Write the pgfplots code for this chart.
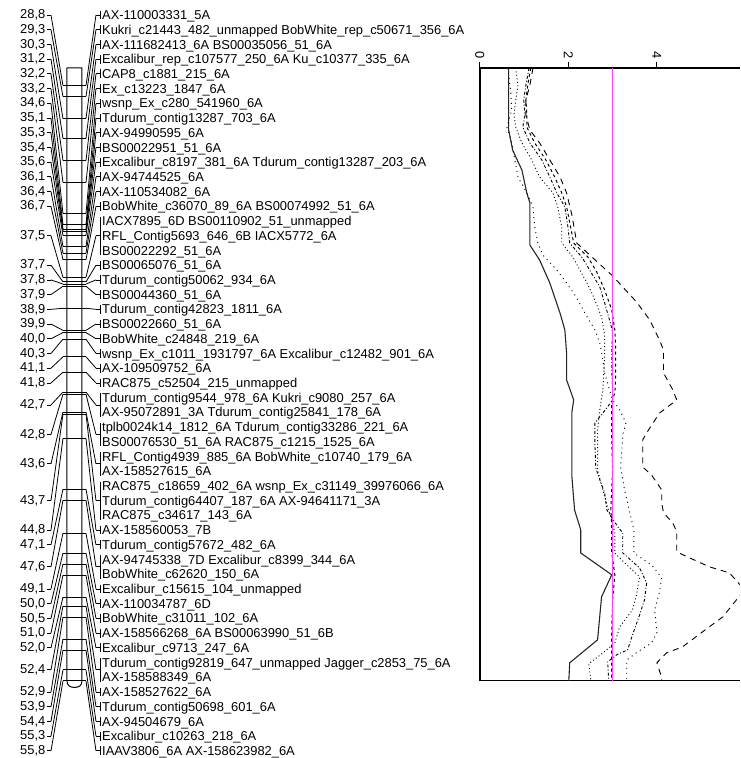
\documentclass[border=0pt]{standalone}
\usepackage{fontspec}
\setmainfont{Liberation Sans}
\usepackage{pgfplots}
\usepackage{pgfplotstable}
\pgfplotsset{compat=1.18}
\definecolor{thr}{RGB}{255,64,255}
\newcommand{\lbl}{\fontsize{12.9}{15}\selectfont}

% linkage groups: position (cM), first and last label row
\pgfplotstableread{
c rs re
28.8 1 1
29.3 2 2
30.3 3 3
31.2 4 4
32.2 5 5
33.2 6 6
34.6 7 7
35.1 8 8
35.3 9 9
35.4 10 10
35.6 11 11
36.1 12 12
36.4 13 13
36.7 14 14
37.5 15 17
37.7 18 18
37.8 19 19
37.9 20 20
38.9 21 21
39.9 22 22
40.0 23 23
40.3 24 24
41.1 25 25
41.8 26 26
42.7 27 28
42.8 29 30
43.6 31 32
43.7 33 35
44.8 36 36
47.1 37 37
47.6 38 39
49.1 40 40
50.0 41 41
50.5 42 42
51.0 43 43
52.0 44 44
52.4 45 46
52.9 47 47
53.9 48 48
54.4 49 49
55.3 50 50
55.8 51 51
}\groups
\pgfplotstablecreatecol[create col/expr={25.596+0.66757*((\thisrow{rs}+\thisrow{re})/2-1)}]{yn}{\groups}
\pgfplotstablecreatecol[create col/expr={\thisrow{c}-\thisrow{yn}}]{dv}{\groups}
\pgfplotstablecreatecol[create col/expr={\thisrow{yn}-\thisrow{c}}]{ndv}{\groups}
\pgfplotstablecreatecol[create col/expr={25.596+0.66757*(\thisrow{rs}-1)-0.2}]{yt}{\groups}
\pgfplotstablecreatecol[create col/expr={0.66757*(\thisrow{re}-\thisrow{rs})+0.4}]{bh}{\groups}

\pgfplotstableread{
lod cm
0.65 28.00
0.65 30.81
0.74 31.72
0.95 32.63
1.06 33.67
1.13 34.12
1.13 36.03
1.35 36.71
1.58 37.75
1.81 39.11
1.92 39.88
1.96 40.93
1.96 42.15
2.12 43.06
2.08 43.60
2.08 46.55
2.14 48.05
2.28 48.95
2.28 50.00
2.98 50.99
2.75 51.99
2.66 53.94
2.03 54.98
2.01 55.80
}\curveS

\pgfplotstableread{
lod cm
1.20 28.00
1.13 28.77
1.04 29.45
1.04 30.13
1.13 30.81
1.35 31.40
1.58 32.17
1.81 32.94
1.96 33.67
2.08 34.67
2.19 35.94
2.53 36.57
2.98 37.39
3.54 38.61
3.84 39.43
4.06 40.34
4.15 40.79
4.15 41.83
4.36 42.60
4.45 43.06
4.06 43.65
3.77 44.55
3.68 44.87
3.68 46.10
3.88 46.46
4.11 47.14
4.11 47.73
4.15 48.18
4.36 48.63
4.45 49.04
4.45 49.95
4.74 50.22
5.19 50.63
5.64 50.90
5.98 51.67
5.49 52.90
5.03 53.58
4.58 54.26
4.22 54.53
4.00 54.98
4.09 55.53
4.11 55.80
}\curveLD

\pgfplotstableread{
lod cm
0.63 28.00
0.70 29.13
0.72 29.90
0.61 30.68
0.72 31.40
0.79 32.17
0.86 32.94
1.06 33.67
1.20 34.30
1.24 35.21
1.31 35.94
1.42 36.48
1.74 37.16
1.96 37.75
2.19 38.43
2.37 39.11
2.60 39.88
2.71 40.47
2.78 41.24
2.82 41.83
2.93 42.60
3.00 43.06
3.16 43.51
3.30 44.10
3.23 44.64
3.21 45.32
3.18 46.10
3.27 47.14
3.39 48.18
3.48 48.95
3.48 50.00
3.88 50.54
4.11 51.13
4.06 51.76
3.95 52.58
4.00 53.62
3.88 54.08
3.57 54.48
3.32 54.85
3.32 55.80
}\curveD

\pgfplotstableread{
lod cm
0.81 28.00
0.86 28.77
0.81 29.45
0.77 30.13
0.81 30.68
0.95 31.40
1.17 32.17
1.35 32.94
1.65 33.67
1.76 34.30
1.85 35.21
1.85 35.94
2.10 36.57
2.26 37.16
2.42 37.75
2.55 38.29
2.66 38.84
2.75 39.29
2.82 40.11
2.82 41.02
2.80 41.83
2.78 42.60
2.71 43.51
2.66 44.42
2.66 46.23
2.78 47.14
2.87 47.82
2.98 48.50
3.05 49.09
3.05 50.00
3.32 50.54
3.61 51.08
3.54 51.90
3.45 52.58
3.16 53.35
3.05 54.08
2.78 54.53
2.46 55.03
2.51 55.80
}\curveP

\pgfplotstableread{
lod cm
1.11 28.00
1.04 28.77
0.99 29.45
1.02 30.13
0.97 30.68
1.13 31.40
1.40 32.17
1.58 32.94
1.74 33.67
1.92 34.30
1.99 35.21
2.03 35.94
2.30 36.57
2.48 37.16
2.71 37.93
2.82 38.66
2.93 39.43
3.00 39.97
2.98 40.79
2.98 41.70
3.00 42.60
3.00 43.06
2.78 43.65
2.60 44.10
2.60 45.10
2.62 46.14
2.71 46.68
2.82 47.27
2.87 48.05
3.12 48.82
3.23 49.09
3.23 50.00
3.61 50.68
3.77 51.36
3.72 52.13
3.61 52.81
3.45 53.71
3.34 54.39
3.09 54.62
2.89 54.94
2.91 55.80
}\curveQ

\pgfplotstableread{
lod cm
1.15 28.00
1.08 28.77
1.04 29.45
1.06 30.13
1.06 30.68
1.24 31.40
1.49 32.17
1.69 32.94
1.85 33.67
1.96 34.30
2.05 35.21
2.12 35.94
2.44 36.57
2.64 37.25
2.82 38.07
2.98 38.97
3.05 39.88
3.07 40.79
3.07 42.01
3.05 42.74
2.98 43.15
2.98 44.87
3.00 46.23
2.98 47.14
2.96 48.05
2.98 48.95
2.98 50.00
3.05 50.99
3.00 52.13
2.98 53.49
2.98 55.80
}\curveR

\begin{document}
\begin{tikzpicture}
% ---------------- linkage map (x in px, y in cM) ----------------
\begin{axis}[
  name=canvas, at={(0pt,0pt)}, anchor=north west,
  scale only axis, width=740pt, height=758pt,
  xmin=0, xmax=740, ymin=24.916, ymax=59.293, y dir=reverse,
  hide axis, clip=false,
  /pgf/number format/.cd, use comma, fixed, fixed zerofill, precision=1, assume math mode=true,
]
\path (axis cs:0,24.916) rectangle (axis cs:740,59.293);
% chromosome bar
\addplot[black, line width=1pt] coordinates {
 (67,28.0) (82,28.0) (82,55.8) (81.5,55.93) (80,56.03) (77.5,56.08) (74.5,56.1)
 (71.5,56.08) (69,56.03) (67.5,55.93) (67,55.8) (67,28.0)};
% marker lines across bar
\addplot[black, line width=0.8pt, quiver={u=23, v=0}] table[x expr=63, y=c] \groups;
% left connectors
\addplot[black, line width=0.8pt, quiver={u=4, v=0}] table[x expr=47, y=yn] \groups;
\addplot[black, line width=0.8pt, quiver={u=12, v=\thisrow{dv}}] table[x expr=51, y=yn] \groups;
% right connectors
\addplot[black, line width=0.8pt, quiver={u=10, v=\thisrow{ndv}}] table[x expr=86, y=c] \groups;
\addplot[black, line width=0.8pt, quiver={u=4, v=0}] table[x expr=96, y=yn] \groups;
\addplot[black, line width=0.8pt, quiver={u=0, v=\thisrow{bh}}] table[x expr=100, y=yt] \groups;
% position numbers
\addplot[draw=none, mark=none, point meta=explicit,
  nodes near coords,
  nodes near coords style={anchor=east, inner sep=0pt, font=\lbl, text=black}]
  table[x expr=45.5, y=yn, meta=c] \groups;
\end{axis}

% ---------------- LOD profile ----------------
\begin{axis}[
  at={(480pt,-68pt)}, anchor=north west,
  scale only axis, width=260pt, height=613pt,
  xmin=0, xmax=5.876, ymin=28, ymax=55.8, y dir=reverse,
  axis x line*=top, axis y line*=left,
  axis line style={line width=1.2pt, black},
  xtick={0,2,4}, ytick=\empty,
  xtick align=outside, major tick length=6pt,
  tick style={black, line width=1pt},
  xticklabel style={rotate=-90, anchor=east, font=\lbl},
  /pgf/number format/assume math mode=true,
  clip mode=individual,
]
\draw[line width=1.2pt] (axis cs:0,55.8) -- (axis cs:5.876,55.8);
\addplot[black!85, line width=1.1pt] table[x=lod, y=cm] \curveS;
\addplot[black, line width=0.9pt, dash pattern=on 6pt off 5pt] table[x=lod, y=cm] \curveLD;
\addplot[black, line width=0.9pt, dash pattern=on 1pt off 4pt] table[x=lod, y=cm] \curveD;
\addplot[black, line width=0.9pt, dash pattern=on 1pt off 2.5pt] table[x=lod, y=cm] \curveP;
\addplot[black, line width=0.9pt, dash pattern=on 3pt off 2pt on 1pt off 2pt] table[x=lod, y=cm] \curveQ;
\addplot[black, line width=1pt, dash pattern=on 3pt off 3pt] table[x=lod, y=cm] \curveR;
\addplot[thr, line width=1.5pt] coordinates {(3,28) (3,55.8)};
\end{axis}

% ---------------- marker names ----------------
\foreach \t [count=\i] in {
AX-110003331\_5A,
Kukri\_c21443\_482\_unmapped BobWhite\_rep\_c50671\_356\_6A,
AX-111682413\_6A BS00035056\_51\_6A,
Excalibur\_rep\_c107577\_250\_6A Ku\_c10377\_335\_6A,
CAP8\_c1881\_215\_6A,
Ex\_c13223\_1847\_6A,
wsnp\_Ex\_c280\_541960\_6A,
Tdurum\_contig13287\_703\_6A,
AX-94990595\_6A,
BS00022951\_51\_6A,
Excalibur\_c8197\_381\_6A Tdurum\_contig13287\_203\_6A,
AX-94744525\_6A,
AX-110534082\_6A,
BobWhite\_c36070\_89\_6A BS00074992\_51\_6A,
IACX7895\_6D BS00110902\_51\_unmapped,
RFL\_Contig5693\_646\_6B IACX5772\_6A,
BS00022292\_51\_6A,
BS00065076\_51\_6A,
Tdurum\_contig50062\_934\_6A,
BS00044360\_51\_6A,
Tdurum\_contig42823\_1811\_6A,
BS00022660\_51\_6A,
BobWhite\_c24848\_219\_6A,
wsnp\_Ex\_c1011\_1931797\_6A Excalibur\_c12482\_901\_6A,
AX-109509752\_6A,
RAC875\_c52504\_215\_unmapped,
Tdurum\_contig9544\_978\_6A Kukri\_c9080\_257\_6A,
AX-95072891\_3A Tdurum\_contig25841\_178\_6A,
tplb0024k14\_1812\_6A Tdurum\_contig33286\_221\_6A,
BS00076530\_51\_6A RAC875\_c1215\_1525\_6A,
RFL\_Contig4939\_885\_6A BobWhite\_c10740\_179\_6A,
AX-158527615\_6A,
RAC875\_c18659\_402\_6A wsnp\_Ex\_c31149\_39976066\_6A,
Tdurum\_contig64407\_187\_6A AX-94641171\_3A,
RAC875\_c34617\_143\_6A,
AX-158560053\_7B,
Tdurum\_contig57672\_482\_6A,
AX-94745338\_7D Excalibur\_c8399\_344\_6A,
BobWhite\_c62620\_150\_6A,
Excalibur\_c15615\_104\_unmapped,
AX-110034787\_6D,
BobWhite\_c31011\_102\_6A,
AX-158566268\_6A BS00063990\_51\_6B,
Excalibur\_c9713\_247\_6A,
Tdurum\_contig92819\_647\_unmapped Jagger\_c2853\_75\_6A,
AX-158588349\_6A,
AX-158527622\_6A,
Tdurum\_contig50698\_601\_6A,
AX-94504679\_6A,
Excalibur\_c10263\_218\_6A,
IAAV3806\_6A AX-158623982\_6A}
  \node[anchor=base west, inner sep=0pt, font=\lbl] at (102pt, {-(19.6+14.72*(\i-1))*1pt}) {\t};
\end{tikzpicture}
\end{document}
